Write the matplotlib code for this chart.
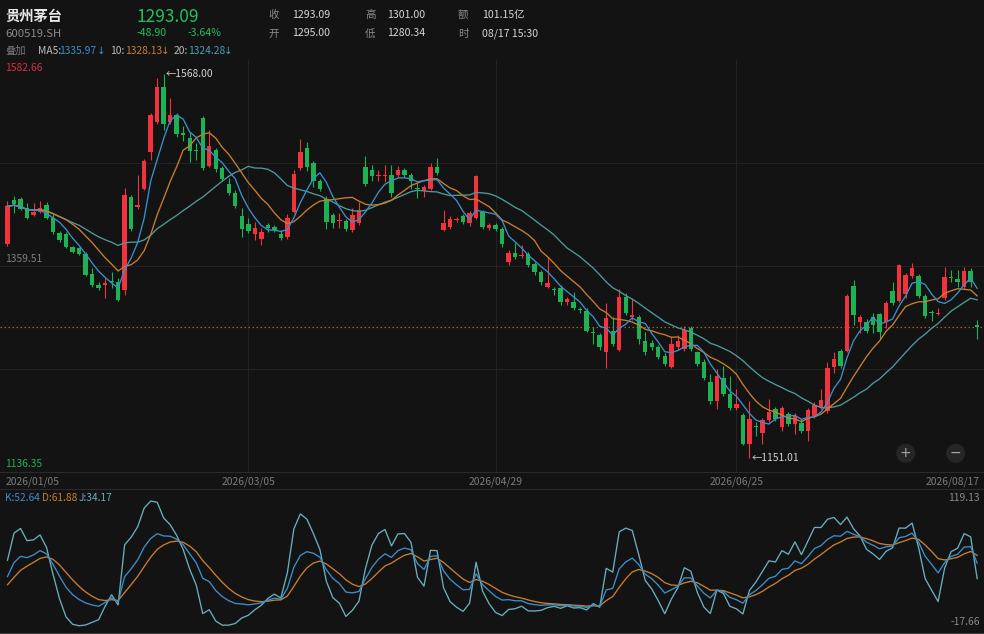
import numpy as np
import pandas as pd
import matplotlib
matplotlib.use("Agg")
import matplotlib.pyplot as plt
from matplotlib.patches import Ellipse
from matplotlib.transforms import blended_transform_factory

plt.rcParams['font.family'] = ['Noto Sans CJK SC', 'DejaVu Sans']

# --- dados ---
opens = [
    1382.9, 1430.6, 1431.7, 1421.9, 1414.3, 1417.6, 1425.2, 1411.1, 1394.8, 1393.7,
    1379.6, 1378.5, 1372.0, 1350.3, 1338.3, 1338.3, 1342.7, 1341.6, 1332.9, 1433.9,
    1423.0, 1442.6, 1482.7, 1515.3, 1553.3, 1515.3, 1522.9, 1503.4, 1498.0, 1484.9,
    1519.7, 1467.6, 1484.9, 1465.4, 1448.0, 1438.2, 1413.3, 1404.6, 1393.7, 1388.3,
    1403.5, 1401.3, 1393.7, 1390.4, 1417.6, 1465.4, 1487.1, 1470.8, 1451.3, 1431.7,
    1414.3, 1407.8, 1407.8, 1398.0, 1405.6, 1466.5, 1463.2, 1456.7, 1456.7, 1457.8,
    1457.8, 1463.2, 1457.8, 1443.7, 1440.4, 1442.6, 1466.5, 1398.0, 1401.3, 1408.9,
    1413.3, 1405.6, 1411.1, 1417.6, 1400.2, 1403.5, 1399.1, 1363.3, 1373.1, 1369.8,
    1372.0, 1361.1, 1352.4, 1336.2, 1334.0, 1335.0, 1319.8, 1319.8, 1312.2, 1310.1,
    1287.3, 1284.0, 1266.6, 1288.4, 1268.8, 1325.3, 1303.6, 1303.6, 1277.5, 1276.4,
    1271.0, 1262.3, 1250.3, 1271.0, 1269.9, 1291.6, 1265.6, 1255.8, 1234.1, 1213.4,
    1238.4, 1221.0, 1205.8, 1198.2, 1166.7, 1186.3, 1178.7, 1192.8, 1204.7, 1185.2,
    1199.3, 1188.5, 1189.5, 1180.8, 1197.1, 1206.9, 1202.6, 1250.3, 1267.7, 1267.7,
    1337.2, 1298.1, 1298.1, 1303.6, 1306.8, 1298.1, 1331.8, 1320.9, 1328.6, 1348.1,
    1348.1, 1326.4, 1309.0, 1306.8, 1324.2, 1347.0, 1344.8, 1336.2, 1353.5, 1295.00,
]
highs = [
    1429.5, 1434.9, 1433.9, 1427.4, 1427.4, 1429.5, 1428.4, 1415.4, 1396.9, 1395.9,
    1380.7, 1379.6, 1374.2, 1356.8, 1341.6, 1345.9, 1352.4, 1345.9, 1443.7, 1436.1,
    1457.8, 1475.1, 1525.1, 1563.1, 1568.0, 1541.4, 1525.1, 1511.0, 1504.5, 1492.5,
    1521.8, 1506.6, 1487.1, 1467.6, 1454.5, 1441.5, 1421.9, 1411.1, 1406.7, 1400.2,
    1405.6, 1403.5, 1398.0, 1415.5, 1463.2, 1496.9, 1493.6, 1473.0, 1453.4, 1434.9,
    1416.5, 1416.5, 1410.0, 1421.9, 1428.4, 1478.4, 1468.6, 1463.2, 1468.6, 1468.6,
    1467.6, 1465.4, 1460.0, 1449.1, 1446.9, 1470.8, 1476.2, 1419.8, 1413.3, 1412.2,
    1415.4, 1418.7, 1457.8, 1419.8, 1405.6, 1405.6, 1401.3, 1376.3, 1383.9, 1381.8,
    1374.2, 1363.3, 1354.6, 1368.7, 1336.2, 1338.3, 1325.3, 1330.7, 1314.4, 1313.3,
    1292.7, 1286.2, 1318.8, 1303.6, 1334.0, 1329.6, 1324.2, 1305.8, 1287.3, 1278.6,
    1273.2, 1264.5, 1281.9, 1284.0, 1293.8, 1293.8, 1267.7, 1258.0, 1242.7, 1248.2,
    1251.4, 1240.6, 1226.5, 1200.4, 1213.4, 1190.6, 1194.9, 1215.6, 1206.9, 1208.0,
    1201.5, 1200.4, 1193.9, 1205.8, 1212.3, 1226.5, 1255.8, 1266.6, 1269.9, 1328.6,
    1343.7, 1305.8, 1301.4, 1307.9, 1307.9, 1320.9, 1341.6, 1361.1, 1351.4, 1362.2,
    1350.3, 1328.6, 1311.2, 1313.3, 1357.9, 1354.6, 1354.6, 1357.9, 1356.8, 1301.00,
]
lows = [
    1380.7, 1416.5, 1419.8, 1410.0, 1413.3, 1416.5, 1410.0, 1393.7, 1385.0, 1378.5,
    1373.1, 1370.9, 1348.1, 1336.2, 1332.9, 1324.2, 1335.0, 1320.9, 1327.5, 1396.9,
    1420.8, 1441.5, 1474.1, 1513.2, 1506.6, 1513.2, 1499.0, 1494.7, 1471.9, 1474.1,
    1463.2, 1466.5, 1461.0, 1451.3, 1436.1, 1421.9, 1390.4, 1394.8, 1387.2, 1381.8,
    1395.9, 1395.9, 1387.2, 1388.3, 1416.5, 1463.2, 1462.1, 1444.7, 1440.4, 1399.1,
    1400.2, 1400.2, 1396.9, 1395.9, 1403.5, 1445.8, 1451.3, 1451.3, 1450.2, 1433.9,
    1455.6, 1455.6, 1442.6, 1432.8, 1433.9, 1441.5, 1457.8, 1396.9, 1399.1, 1406.7,
    1404.6, 1402.4, 1410.0, 1399.1, 1398.0, 1396.9, 1379.6, 1360.0, 1366.6, 1367.7,
    1357.9, 1349.2, 1338.3, 1335.0, 1327.5, 1317.6, 1317.6, 1311.2, 1307.9, 1287.3,
    1275.3, 1268.8, 1249.3, 1272.1, 1267.7, 1305.8, 1300.3, 1275.3, 1263.4, 1268.8,
    1259.0, 1251.4, 1249.3, 1268.8, 1267.7, 1267.7, 1251.4, 1236.2, 1210.2, 1204.7,
    1218.9, 1203.7, 1203.7, 1165.6, 1151.01, 1175.4, 1166.7, 1190.6, 1191.7, 1180.8,
    1186.3, 1177.6, 1178.7, 1170.0, 1194.9, 1204.7, 1200.4, 1243.8, 1249.3, 1265.6,
    1294.9, 1286.2, 1286.2, 1286.2, 1280.7, 1291.6, 1316.6, 1319.8, 1324.2, 1345.9,
    1324.2, 1302.5, 1299.2, 1305.8, 1322.0, 1341.6, 1336.2, 1334.0, 1336.2, 1280.34,
]
closes = [
    1424.1, 1426.3, 1420.8, 1411.1, 1417.6, 1421.9, 1411.1, 1395.9, 1387.2, 1379.6,
    1374.2, 1372.0, 1349.2, 1338.3, 1335.0, 1340.5, 1341.6, 1322.0, 1436.1, 1399.1,
    1425.2, 1472.9, 1522.9, 1553.3, 1513.2, 1522.9, 1502.3, 1501.2, 1483.8, 1483.8,
    1465.4, 1489.3, 1464.3, 1453.4, 1438.2, 1424.1, 1399.1, 1396.9, 1400.2, 1395.9,
    1400.2, 1398.0, 1389.4, 1411.1, 1458.9, 1482.7, 1466.5, 1451.3, 1442.6, 1406.7,
    1405.6, 1408.9, 1399.1, 1414.3, 1419.8, 1448.0, 1456.7, 1457.8, 1457.8, 1438.2,
    1463.2, 1457.8, 1451.3, 1442.6, 1444.7, 1466.5, 1460.0, 1405.6, 1410.0, 1410.0,
    1406.7, 1416.5, 1456.7, 1401.3, 1403.5, 1399.1, 1382.8, 1373.1, 1368.7, 1370.9,
    1360.0, 1352.4, 1341.6, 1340.5, 1332.9, 1319.8, 1323.1, 1313.3, 1311.2, 1288.4,
    1286.2, 1271.0, 1302.5, 1274.3, 1325.3, 1308.0, 1305.8, 1280.7, 1265.6, 1271.0,
    1261.2, 1253.6, 1275.3, 1277.5, 1290.5, 1269.9, 1253.6, 1238.4, 1213.4, 1240.6,
    1221.0, 1205.8, 1210.2, 1166.7, 1193.9, 1185.2, 1192.8, 1201.5, 1193.9, 1205.8,
    1188.5, 1197.1, 1180.8, 1203.7, 1209.1, 1214.5, 1249.3, 1258.0, 1251.4, 1326.4,
    1305.8, 1303.6, 1289.4, 1294.9, 1287.3, 1318.8, 1318.8, 1360.0, 1349.2, 1356.8,
    1326.4, 1304.7, 1307.9, 1307.9, 1347.0, 1345.9, 1341.6, 1353.5, 1341.6, 1293.09,
]

date_ticks = [0, 37, 75, 112, 149]
date_labels = ["2026/01/05", "2026/03/05", "2026/04/29", "2026/06/25", "2026/08/17"]

price_top, price_bottom = 1582.66, 1136.35
kdj_top_label, kdj_bottom_label = "119.13", "-17.66"

# K e D antes do primeiro dia (estimados do gráfico)
k_start, d_start = 12.5, 24.5

# --- cores ---
BG = "#131313"
RED = "#F2333D"
GREEN = "#1DB254"
C_MA5 = "#3C8FCB"
C_MA10 = "#C97E2E"
C_MA20 = "#4E9A9C"
C_J = "#6AAFBD"
GRID = "#222222"

W, H = 984, 634

o = np.array(opens)
h = np.array(highs)
l = np.array(lows)
c = np.array(closes)
idx = np.arange(len(c))

ma5 = pd.Series(c).rolling(5, min_periods=1).mean()
ma10 = pd.Series(c).rolling(10, min_periods=1).mean()
ma20 = pd.Series(c).rolling(20, min_periods=1).mean()

# KDJ(9,3,3)
hh = pd.Series(h).rolling(9, min_periods=1).max()
ll = pd.Series(l).rolling(9, min_periods=1).min()
rsv = ((c - ll) / (hh - ll) * 100).values
k_vals, d_vals = [], []
kp, dp = k_start, d_start
for r in rsv:
    kp = 2 / 3 * kp + r / 3
    dp = 2 / 3 * dp + kp / 3
    k_vals.append(kp)
    d_vals.append(dp)
k_vals = np.array(k_vals)
d_vals = np.array(d_vals)
j_vals = 3 * k_vals - 2 * d_vals

fig = plt.figure(figsize=(W / 100, H / 100), dpi=100, facecolor=BG)


def ft(x, y, s, **kw):
    kw.setdefault("va", "center")
    fig.text(x / W, 1 - y / H, s, **kw)


xl = (-1.152, 150.05)

# --- painel principal ---
ax = fig.add_axes([0, 1 - 471.7 / H, 1, (471.7 - 60) / H])
ax.set_facecolor(BG)
ax.set_xlim(*xl)
ax.set_ylim(price_bottom, price_top)
for s in ["top", "left", "right"]:
    ax.spines[s].set_visible(False)
ax.spines["bottom"].set_color("#2A2A2A")
ax.set_xticks([])
ax.set_yticks([])

span = price_top - price_bottom
for q in (0.25, 0.5, 0.75):
    ax.axhline(price_bottom + span * q, color=GRID, lw=0.8, zorder=0)
for t in date_ticks[1:-1]:
    ax.axvline(t, color=GRID, lw=0.8, zorder=0)

up = c >= o
cols = np.where(up, RED, GREEN)
ax.vlines(idx, l, h, colors=cols, lw=0.8, zorder=2)
body_low = np.minimum(o, c)
body_h = np.maximum(np.abs(c - o), 1.0)
ax.bar(idx, body_h, bottom=body_low, width=0.68, color=cols, lw=0, zorder=3)

ax.plot(idx, ma20, color=C_MA20, lw=0.95, zorder=4)
ax.plot(idx, ma10, color=C_MA10, lw=0.95, zorder=4)
ax.plot(idx, ma5, color=C_MA5, lw=0.95, zorder=4)

ax.axhline(c[-1], color="#A0602E", lw=0.9, ls=(0, (1.2, 2)), zorder=1)

i_hi = int(np.argmax(h))
i_lo = int(np.argmin(l))
ax.annotate("←%.2f" % h[i_hi], xy=(i_hi, h[i_hi]), xytext=(2, 0), textcoords="offset pixels",
            ha="left", va="center", color="#D4D4D4", fontsize=7.4)
ax.annotate("←%.2f" % l[i_lo], xy=(i_lo, l[i_lo]), xytext=(2, 0), textcoords="offset pixels",
            ha="left", va="center", color="#D4D4D4", fontsize=7.4)

# --- painel KDJ ---
ax2 = fig.add_axes([0, 1 - 632.7 / H, 1, (632.7 - 489.3) / H])
ax2.set_facecolor(BG)
ax2.set_xlim(*xl)
ax2.set_ylim(-23.95, 134.24)
for s in ["left", "right"]:
    ax2.spines[s].set_visible(False)
ax2.spines["top"].set_color("#2A2A2A")
ax2.spines["bottom"].set_color("#3C3C3C")
ax2.set_xticks([])
ax2.set_yticks([])
ax2.plot(idx, j_vals, color=C_J, lw=0.95)
ax2.plot(idx, d_vals, color=C_MA10, lw=0.95)
ax2.plot(idx, k_vals, color=C_MA5, lw=0.95)

# --- eixo de datas ---
tr = blended_transform_factory(ax.transData, fig.transFigure)
for t, lab in zip(date_ticks, date_labels):
    ha = "center"
    if t == date_ticks[0]:
        ha = "left"
    elif t == date_ticks[-1]:
        ha = "right"
    xx = t - 0.3 if ha == "left" else (t + 0.45 if ha == "right" else t)
    ax.text(xx, 1 - 481.7 / H, lab, transform=tr, ha=ha, va="center",
            color="#7C7C7C", fontsize=7.4)

# --- cabeçalho ---
LBL = "#8A8A8A"
VAL = "#D6D6D6"
UPG = "#22C05D"
ft(5, 16.5, "贵州茅台", fontsize=10.3, color="#E8E8E8", weight="bold")
ft(5, 34.3, "600519.SH", fontsize=8.2, color="#8A8A8A")
ft(137, 16.8, "%.2f" % c[-1], fontsize=12.5, color=UPG)
ft(137, 33.3, "-48.90", fontsize=7.6, color=UPG)
ft(188, 33.3, "-3.64%", fontsize=7.6, color=UPG)

ft(268, 15, "收", fontsize=7.6, color=LBL)
ft(292, 15, "1293.09", fontsize=7.6, color=VAL)
ft(268, 33.5, "开", fontsize=7.6, color=LBL)
ft(292, 33.5, "1295.00", fontsize=7.6, color=VAL)
ft(365, 15, "高", fontsize=7.6, color=LBL)
ft(387, 15, "1301.00", fontsize=7.6, color=VAL)
ft(365, 33.5, "低", fontsize=7.6, color=LBL)
ft(387, 33.5, "1280.34", fontsize=7.6, color=VAL)
ft(458, 15, "额", fontsize=7.6, color=LBL)
ft(482, 15, "101.15亿", fontsize=7.6, color=VAL)
ft(458, 33.5, "时", fontsize=7.6, color=LBL)
ft(482, 33.5, "08/17 15:30", fontsize=7.6, color=VAL)

ft(5, 51, "叠加", fontsize=7.4, color="#7A7A7A")
ma_items = [
    (37.7, "MA5:", 59.3, "1335.97", 101.6, C_MA5),
    (110.0, "10:", 125.0, "1328.13", 165.3, C_MA10),
    (173.3, "20:", 188.3, "1324.28", 228.7, "#4A9BB5"),
]
for x_lab, lab, x_val, val, x_arr, col in ma_items:
    ft(x_lab, 51, lab, fontsize=7.4, color="#BDBDBD")
    ft(x_val, 51, val, fontsize=7.4, color=col)
    ft(x_arr, 51, "↓", fontsize=7.4, color=col, ha="center", family="DejaVu Sans")

# rótulos de preço
ft(5, 68, "%.2f" % price_top, fontsize=7.4, color="#D6333C")
ft(5, 259, "%.2f" % ((price_top + price_bottom) / 2), fontsize=7.4, color="#7F7F7F")
ft(5, 464, "%.2f" % price_bottom, fontsize=7.4, color="#22B357")

# rótulos KDJ
ft(5, 497.7, "K:52.64", fontsize=7.3, color=C_MA5)
ft(42, 497.7, "D:61.88", fontsize=7.3, color=C_MA10)
ft(79, 497.7, "J:34.17", fontsize=7.3, color=C_J)
ft(980, 498.3, kdj_top_label, fontsize=7.4, color="#8A8A8A", ha="right")
ft(980, 621.7, kdj_bottom_label, fontsize=7.4, color="#8A8A8A", ha="right")

# botões + / -
for bx, sym in ((905.7, "+"), (955.7, "−")):
    fig.add_artist(Ellipse((bx / W, 1 - 453.3 / H), 19 / W, 19 / H,
                           transform=fig.transFigure, facecolor="#262626", edgecolor="none"))
    ft(bx, 453.3, sym, fontsize=10, color="#A8A8A8", ha="center", family="DejaVu Sans")

fig.savefig("out.png", dpi=100, facecolor=BG)
